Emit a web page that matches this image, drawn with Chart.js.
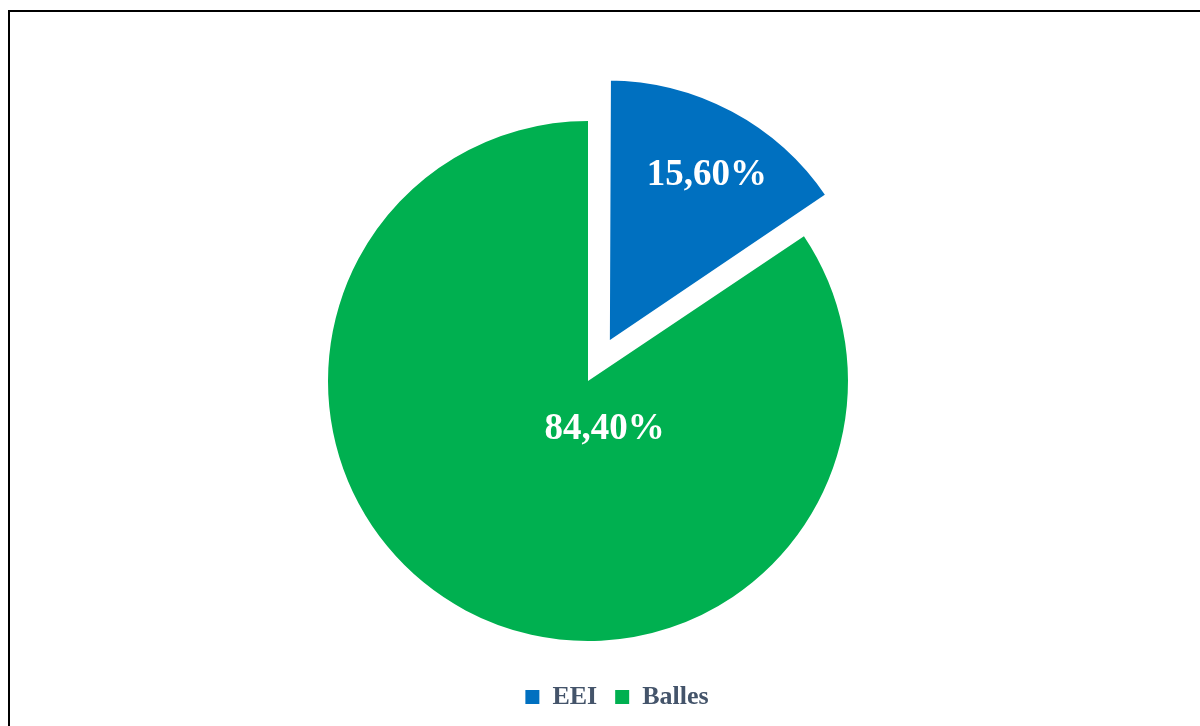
<!DOCTYPE html>
<html><head><meta charset="utf-8">
<script src="https://cdn.jsdelivr.net/npm/chart.js@4"></script>
<style>
html,body{margin:0;padding:0;background:#fff;width:1200px;height:726px;overflow:hidden}
#frame{position:absolute;left:8px;top:10px;width:1300px;height:900px;border:2px solid #000;box-sizing:border-box}
#wrap{position:absolute;left:0;top:0;width:1200px;height:726px}
</style></head><body>
<div id="frame"></div>
<div id="wrap"><canvas id="c" width="1200" height="726"></canvas></div>
<script>
const categories = ['EEI', 'Balles'];
const shares = [15.60, 84.40];
const sliceColors = ['#0070C0', '#00B050'];

const SERIF = '"Liberation Serif", "Times New Roman", serif';
const fmt = v => v.toFixed(2).replace('.', ',') + '%';

const labelPlugin = {
  id: 'sliceLabels',
  afterDatasetsDraw(chart) {
    const meta = chart.getDatasetMeta(0);
    const ctx = chart.ctx;
    ctx.save();
    ctx.font = 'bold 37px ' + SERIF;
    ctx.fillStyle = '#ffffff';
    ctx.textAlign = 'center';
    ctx.textBaseline = 'middle';
    meta.data.forEach((arc, i) => {
      const p = arc.getProps(['x', 'y', 'startAngle', 'endAngle', 'outerRadius'], true);
      const mid = (p.startAngle + p.endAngle) / 2;
      const shift = (arc.options.offset || 0) / 4;
      let x, y;
      if (arc.options.offset > 0) {
        const a = mid + 0.041;
        const d = 0.757 * p.outerRadius;
        x = p.x + Math.cos(mid) * shift + Math.cos(a) * d;
        y = p.y + Math.sin(mid) * shift + Math.sin(a) * d;
      } else {
        x = p.x + 0.064 * p.outerRadius;
        y = p.y + 0.188 * p.outerRadius;
      }
      ctx.fillText(fmt(chart.data.datasets[0].data[i]), x, y);
    });
    ctx.restore();
  }
};

const legendShift = {
  id: 'legendShift',
  afterLayout(chart) {
    const l = chart.legend;
    if (l) { l.left += 29; l.right += 29; }
  }
};

new Chart(document.getElementById('c'), {
  type: 'pie',
  data: {
    labels: categories,
    datasets: [{
      data: shares,
      backgroundColor: sliceColors,
      borderColor: '#ffffff',
      borderWidth: [5.1, 0],
      borderAlign: 'center',
      offset: [164, 0],
      hoverOffset: 0,
      radius: 260,
      clip: false
    }]
  },
  options: {
    responsive: false,
    animation: false,
    layout: { padding: { left: 0, right: 24, top: 96, bottom: 6 } },
    plugins: {
      legend: {
        position: 'bottom',
        labels: {
          boxWidth: 14, boxHeight: 14, padding: 18,
          color: '#44546A',
          font: { family: SERIF, size: 26, weight: 'bold' },
          generateLabels(chart) {
            const items = Chart.overrides.pie.plugins.legend.labels.generateLabels(chart);
            items.forEach(it => { it.lineWidth = 0; it.strokeStyle = it.fillStyle; });
            return items;
          }
        }
      },
      tooltip: { enabled: false }
    }
  },
  plugins: [labelPlugin, legendShift]
});
</script>
</body></html>
